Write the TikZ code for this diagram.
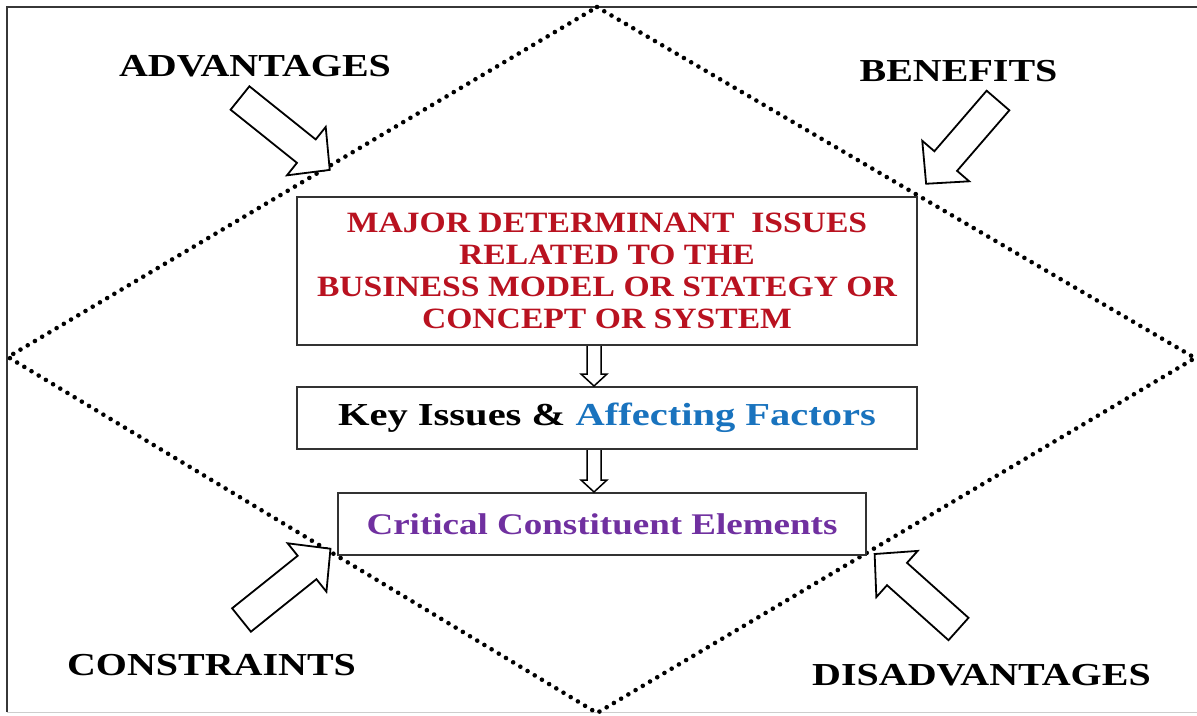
\documentclass[tikz,border=0pt]{standalone}
\usepackage{fontspec}
\setmainfont{Liberation Serif}
\newfontfamily\fLab[FakeStretch=1.25]{Liberation Serif}
\newfontfamily\fMaj[FakeStretch=1.14]{Liberation Serif}
\newfontfamily\fKey[FakeStretch=1.266]{Liberation Serif}
\newfontfamily\fCrit[FakeStretch=1.234]{Liberation Serif}
\usetikzlibrary{calc}
\definecolor{mred}{RGB}{185,18,32}
\definecolor{mblue}{RGB}{25,115,190}
\definecolor{mpurple}{RGB}{112,48,160}
\definecolor{framegray}{RGB}{55,55,55}
\definecolor{lightframe}{RGB}{205,205,205}
\definecolor{boxgray}{RGB}{50,50,50}
\newcommand\bigarr[4]{%
  \coordinate (#1tail) at #2;
  \begin{scope}[shift={(#1tail)}, rotate=#3]
    \draw[bigarrow] (0,-15) -- (#4-30,-15) -- (#4-30,-31) -- (#4,0) -- (#4-30,31) -- (#4-30,15) -- (0,15) -- cycle;
    \coordinate (#1tip) at (#4,0);
  \end{scope}}
\newcommand\hollowdown[2]{%
  \draw[hollow] ($(#1)+(-7,0)$) -- ($(#2)+(-7,-12)$) -- ($(#2)+(-13,-12)$) -- (#2)
    -- ($(#2)+(13,-12)$) -- ($(#2)+(7,-12)$) -- ($(#1)+(7,0)$);}
\begin{document}
\begin{tikzpicture}[x=1pt,y=-1pt,
  dotline/.style={line width=4.6pt, line cap=round, dash pattern=on 0pt off 8.4pt},
  box/.style={draw=boxgray, line width=2pt, fill=white, inner sep=0pt},
  biglabel/.style={font=\fLab\bfseries\fontsize{32}{38}\selectfont, anchor=base, inner sep=0pt},
  bigarrow/.style={draw=black, line width=1.8pt, fill=white, line join=miter},
  hollow/.style={draw=black, line width=1.5pt, fill=white}]
\useasboundingbox (0,0) rectangle (1197,715);
\fill[white] (0,0) rectangle (1197,715);
% frame
\draw[line width=2pt, draw=framegray] (7,712) -- (7,7) -- (1197,7);
\draw[line width=1pt, draw=lightframe] (7,712) -- (1197,712);
% diamond
\coordinate (dT) at (597,7);
\coordinate (dR) at (1195,358);
\coordinate (dB) at (597,713);
\coordinate (dL) at (8,357);
\draw[dotline] (dT) -- (dR) -- (dB) -- (dL) -- cycle;
% boxes
\node[box, minimum width=620pt, minimum height=148pt, text=mred, align=center,
  font=\fMaj\bfseries\fontsize{29.5}{32}\selectfont] (b1) at (607,271)
  {MAJOR DETERMINANT\ \ ISSUES\\RELATED TO THE\\BUSINESS MODEL OR STATEGY OR\\CONCEPT OR SYSTEM};
\node[box, minimum width=620pt, minimum height=62pt,
  font=\fKey\bfseries\fontsize{32}{38}\selectfont] (b2) at (607,418)
  {Key Issues \& \textcolor{mblue}{Affecting Factors}};
\node[box, minimum width=528pt, minimum height=62pt, text=mpurple,
  font=\fCrit\bfseries\fontsize{30}{36}\selectfont] (b3) at (602,524)
  {Critical Constituent Elements};
% small arrows between boxes
\coordinate (s1) at ($(b1.south)+(-13,0)$);
\coordinate (t1) at ($(b2.north)+(-13,0)$);
\coordinate (s2) at ($(b2.south)+(-13,0)$);
\coordinate (t2) at ($(b3.north)+(-8,0)$);
\hollowdown{s1}{t1}
\hollowdown{s2}{t2}
% big arrows
\bigarr{aA}{(240,98)}{-38.7}{115}
\bigarr{aB}{(998,100.5)}{-130.8}{110}
\bigarr{aC}{(241.5,620)}{38.7}{114}
\bigarr{aD}{(958.5,629)}{138.2}{112.5}
% labels
\node[biglabel] (lA) at (255,76) {ADVANTAGES};
\node[biglabel] (lB) at (958.5,81) {BENEFITS};
\node[biglabel] (lC) at (211.5,675) {CONSTRAINTS};
\node[biglabel] (lD) at (981.5,685) {DISADVANTAGES};
\end{tikzpicture}
\end{document}
